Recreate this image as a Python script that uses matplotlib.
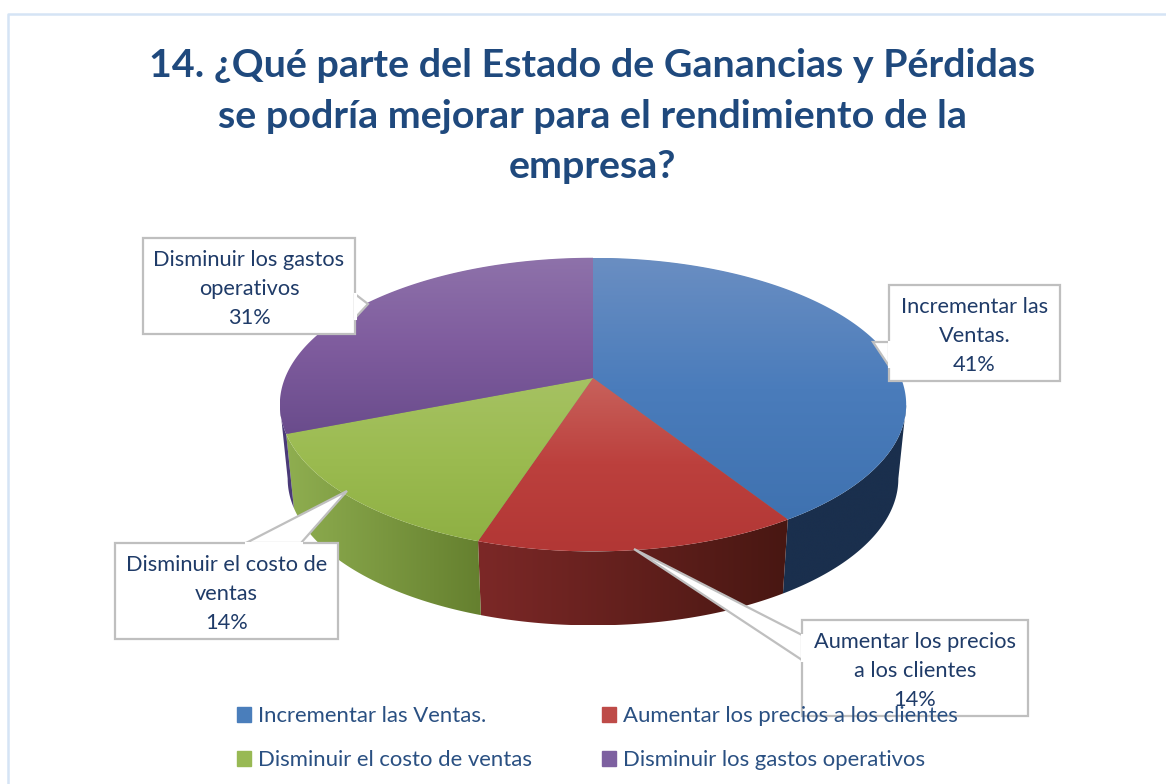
import numpy as np
import matplotlib
matplotlib.use('Agg')
import matplotlib.pyplot as plt
from matplotlib.colors import LinearSegmentedColormap
from matplotlib.patches import Polygon, Patch

# data
categories = ['Incrementar las Ventas.', 'Aumentar los precios a los clientes',
              'Disminuir el costo de ventas', 'Disminuir los gastos operativos']
values = [41, 14, 14, 31]
box_labels = ['Incrementar las\nVentas.', 'Aumentar los precios\na los clientes',
              'Disminuir el costo de\nventas', 'Disminuir los gastos\noperativos']
title = '14. ¿Qué parte del Estado de Ganancias y Pérdidas\nse podría mejorar para el rendimiento de la\nempresa?'

# top face colours (back to front) and side colours (left to right)
top_colors = [['#6A8EC2', '#4A7CBB', '#3F72B0'],
              ['#C8625C', '#BC403D', '#B23735'],
              ['#A6C263', '#9BBB50', '#8FB044'],
              ['#8E72AA', '#7F5C9E', '#6A4C8C']]
side_colors = [['#1A2F4D', '#1A2F4D'],
               ['#7C2827', '#481712'],
               ['#8FAE50', '#65802F'],
               ['#4A3A78', '#4A3A78']]
legend_colors = ['#4A7EBB', '#BE4B48', '#98B954', '#7D60A0']

# callout boxes: x0, y0, x1, y1, pointer polygon on the box edge
boxes = [(889, 285, 1060, 381, [(889, 342), (873, 342), (889, 366)]),
         (802, 620, 1028, 716, [(802, 635), (634, 549), (802, 660)]),
         (115, 543, 338, 639, [(246, 543), (347, 491), (301, 543)]),
         (143, 238, 355, 334, [(355, 294), (368, 304), (355, 318)])]

# pie geometry in pixels, perspective circle
CX, CY = 593, 378
BX, AY, K = 308, 142, 0.181
DEPTH = 74
XSHRINK = 0.975
FRONT = np.arccos(-K), 2 * np.pi - np.arccos(-K)  # silhouette points of the rim


def rim(angles, dy=0, sx=1.0):
    u, v = np.sin(angles), np.cos(angles)
    d = 1 + K * v
    return np.column_stack([CX + sx * BX * u / d, CY + dy - AY * v / d])


def gradient_fill(ax, pts, colors, vertical=True, zorder=2):
    x0, y0 = pts.min(axis=0)
    x1, y1 = pts.max(axis=0)
    cmap = LinearSegmentedColormap.from_list('g', colors)
    ramp = np.linspace(0, 1, 256)
    ramp = ramp.reshape(-1, 1) if vertical else ramp.reshape(1, -1)
    im = ax.imshow(ramp, cmap=cmap, extent=(x0, x1, y1, y0), aspect='auto',
                   origin='upper', zorder=zorder, interpolation='bilinear')
    clip = Polygon(pts, closed=True, transform=ax.transData)
    im.set_clip_path(clip)


fig = plt.figure(figsize=(11.66, 7.84), dpi=100)
ax = fig.add_axes([0, 0, 1, 1])

edges = 2 * np.pi * np.cumsum([0] + values) / sum(values)

# sides, only the front part of the rim shows
for i in range(len(values)):
    a = max(edges[i], FRONT[0])
    b = min(edges[i + 1], FRONT[1])
    if b <= a:
        continue
    th = np.linspace(a, b, 120)
    pts = np.vstack([rim(th), rim(th[::-1], DEPTH, XSHRINK)])
    gradient_fill(ax, pts, side_colors[i], vertical=False, zorder=2)

# backing so no light seam shows between the slices
full = np.linspace(0, 2 * np.pi, 360)
centre = np.array([CX, CY])
ax.add_patch(Polygon(centre + 0.995 * (rim(full) - centre), closed=True,
                     fc='#7F7F7F', ec='none', zorder=2.9))

for i in range(len(values)):
    th = np.linspace(edges[i], edges[i + 1], 200)
    pts = np.vstack([[CX, CY], rim(th)])
    gradient_fill(ax, pts, top_colors[i], zorder=3)

# callouts
for i, (x0, y0, x1, y1, ptr) in enumerate(boxes):
    ax.add_patch(Polygon([(x0, y0), (x1, y0), (x1, y1), (x0, y1)], closed=True,
                         fc='white', ec='#BFBFBF', lw=1.6, zorder=4))
    ax.add_patch(Polygon(ptr, closed=True, fc='white', ec='#BFBFBF', lw=1.6, zorder=4))
    # hide the box edge under the pointer base
    ax.plot([ptr[0][0], ptr[-1][0]], [ptr[0][1], ptr[-1][1]], color='white', lw=2.2, zorder=4.5)
    ax.text((x0 + x1) / 2, (y0 + y1) / 2 + 3, box_labels[i] + '\n' + str(values[i]) + '%',
            ha='center', va='center', fontsize=15.7, family='Lato', color='#1F3B68',
            linespacing=1.55, zorder=6)

# frame
ax.plot([8, 8, 1166], [784, 14, 14], color='#D5E4F5', lw=1.8, zorder=1)

ax.text(592, 116, title, ha='center', va='center', fontsize=28.4, family='Lato',
        fontweight='bold', color='#1F497D', linespacing=1.52, zorder=6)

order = [0, 2, 1, 3]
handles = [Patch(color=legend_colors[i], label=categories[i]) for i in order]
leg = ax.legend(handles=handles, ncol=2, frameon=False, loc='upper left',
                bbox_to_anchor=(237 / 1166, 1 - 706 / 784), handlelength=0.65, handleheight=0.65,
                handletextpad=0.3, columnspacing=3.15, labelspacing=1.1, borderpad=0, borderaxespad=0,
                prop={'family': 'Lato', 'size': 15.95}, labelcolor='#2A5082')
leg.set_zorder(7)

ax.set_xlim(0, 1166)
ax.set_ylim(784, 0)
ax.axis('off')

fig.savefig('out.png', dpi=100)
